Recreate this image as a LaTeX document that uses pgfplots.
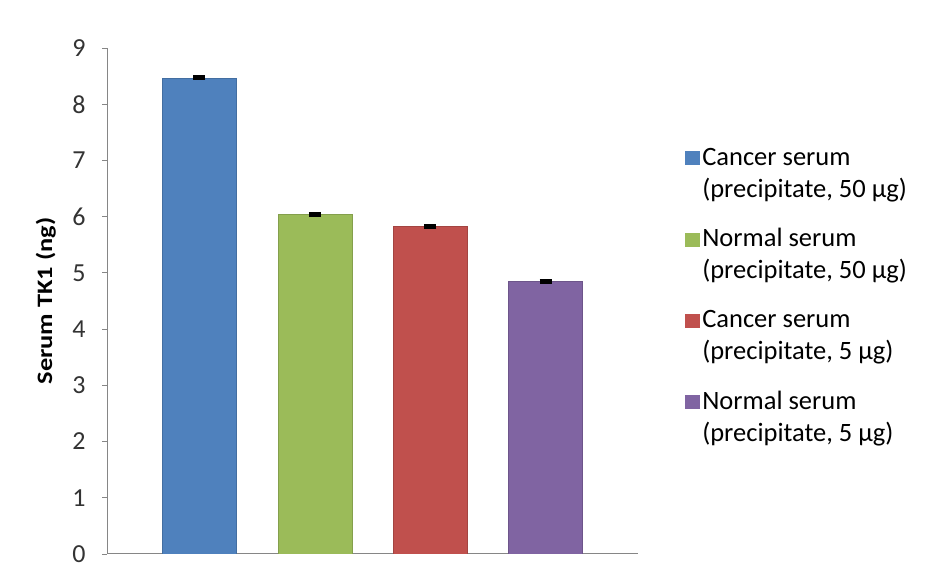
\documentclass[border=0pt]{standalone}
\usepackage{graphicx}
\usepackage{pgfplots}
\pgfplotsset{compat=1.18}
\usepackage{fontspec}
\setmainfont{Carlito}
\definecolor{cblue}{HTML}{4F81BD}
\definecolor{cgreen}{HTML}{9BBB59}
\definecolor{cred}{HTML}{C0504D}
\definecolor{cpurple}{HTML}{8064A2}
\definecolor{axgray}{HTML}{868686}
\begin{document}
\begin{tikzpicture}[x=1bp,y=1bp]
\useasboundingbox (0,0) rectangle (927,567);
\begin{axis}[
  at={(107bp,13bp)}, anchor=south west,
  scale only axis, width=531bp, height=506bp,
  xmin=-0.8, xmax=3.8, ymin=0, ymax=9,
  axis lines*=left,
  axis line style={axgray, line width=1bp},
  xtick=\empty,
  ytick={0,1,...,9},
  tick align=outside,
  major tick length=5bp,
  ytick style={axgray, line width=0.8bp},
  /pgf/number format/assume math mode=true,
  tick label style={font=\fontsize{26bp}{30bp}\selectfont, color=black!80},
  yticklabel style={xshift=-13bp},
  ylabel={\scalebox{1.2}[1]{\bfseries Serum TK1 (ng)}},
  ylabel style={font=\fontsize{22bp}{26bp}\selectfont, at={(axis description cs:-0.115,0.5)}, anchor=center},
  ybar, bar width=74bp, bar shift=0pt,
  legend image code/.code={\fill[#1,draw=none] (-6bp,32bp) rectangle (9bp,46bp);},
  legend style={at={(axis description cs:1.0887,0.807)}, anchor=north west, draw=none, fill=none,
    font=\fontsize{26.5bp}{32bp}\selectfont, cells={align=left, anchor=base west}, row sep=26bp,
    inner sep=0pt},
  error bars/y dir=both, error bars/y explicit,
  error bars/error bar style={black, line width=3bp},
  error bars/error mark options={black, line width=3bp, mark size=6bp, rotate=90},
]
\addplot[fill=cblue, draw=cblue!85!black] coordinates {(0,8.47) +- (0,0.02)};
\addlegendentry{Cancer serum\\(precipitate, 50 µg)}
\addplot[fill=cgreen, draw=cgreen!85!black] coordinates {(1,6.04) +- (0,0.02)};
\addlegendentry{Normal serum\\(precipitate, 50 µg)}
\addplot[fill=cred, draw=cred!85!black] coordinates {(2,5.83) +- (0,0.02)};
\addlegendentry{Cancer serum\\(precipitate, 5 µg)}
\addplot[fill=cpurple, draw=cpurple!85!black] coordinates {(3,4.85) +- (0,0.02)};
\addlegendentry{Normal serum\\(precipitate, 5 µg)}
\end{axis}
\end{tikzpicture}
\end{document}
